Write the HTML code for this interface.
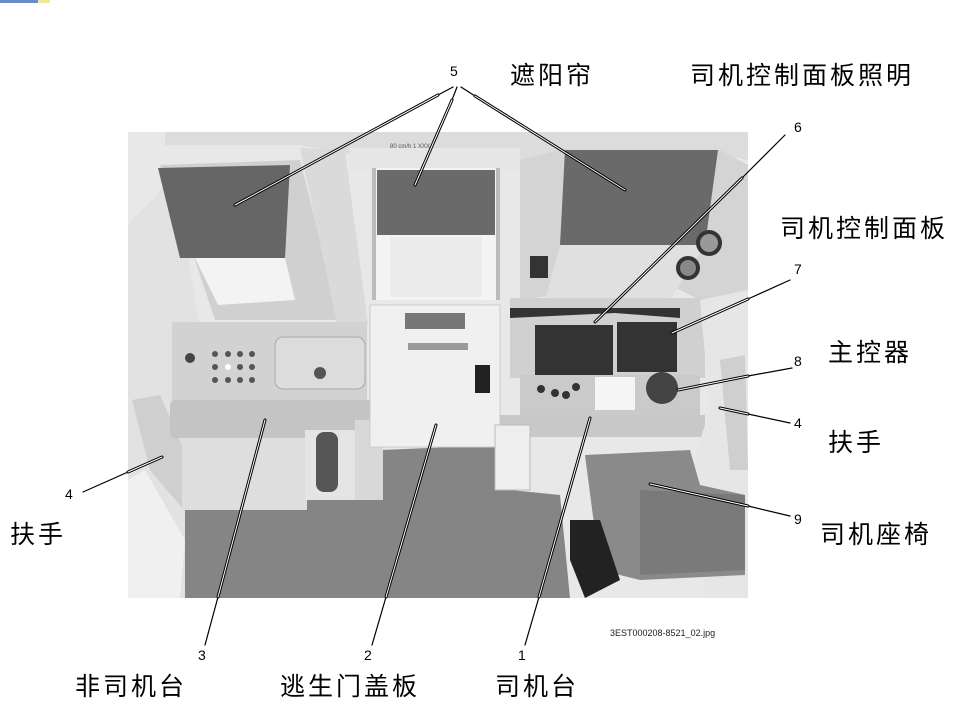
<!DOCTYPE html>
<html><head><meta charset="utf-8"><style>
body{margin:0;background:#fff;width:960px;height:720px;overflow:hidden;position:relative;font-family:"Liberation Sans","Noto Sans CJK SC",sans-serif}
.t{position:absolute;font-size:25px;letter-spacing:3px;color:#000;white-space:nowrap;line-height:1}
.n{position:absolute;font-size:14px;color:#000;line-height:1}
</style></head><body>
<svg width="960" height="720" style="position:absolute;left:0;top:0">
<rect x="0" y="0" width="38" height="3" fill="#6a8cc8"/>
<rect x="38" y="0" width="12" height="3" fill="#eee9a0"/>
<rect x="128" y="132" width="620" height="466" fill="#e8e8e8"/>
<polygon points="165,132 748,132 748,160 700,150 560,150 520,160 380,160 300,145 165,145" fill="#dcdcdc"/>
<polygon points="128,225 175,175 200,330 185,440 220,520 200,598 128,598" fill="#e2e2e2"/>
<polygon points="132,400 160,395 215,520 205,535 150,470" fill="#cfcfcf"/>
<polygon points="128,480 145,470 185,540 180,598 128,598" fill="#f0f0f0"/>
<polygon points="185,505 310,500 380,450 500,445 510,490 560,495 570,598 185,598" fill="#858585"/>
<polygon points="160,165 300,160 340,320 215,320 195,260" fill="#d0d0d0"/>
<polygon points="158,168 290,165 285,258 180,258" fill="#666"/>
<polygon points="195,258 285,258 295,300 218,305" fill="#f3f3f3"/>
<polygon points="300,148 345,150 368,325 338,328" fill="#dadada"/>
<rect x="350" y="148" width="170" height="22" fill="#e6e6e6"/>
<rect x="372" y="168" width="128" height="132" fill="#f4f4f4"/>
<rect x="377" y="170" width="118" height="65" fill="#6a6a6a"/>
<rect x="390" y="237" width="92" height="60" fill="#ececec"/>
<rect x="372" y="168" width="4" height="132" fill="#bbb"/>
<rect x="496" y="168" width="4" height="132" fill="#bbb"/>
<text x="390" y="148" font-size="6" fill="#555" font-family="Liberation Sans">80 cm/h  1 XXX</text>
<polygon points="520,160 560,150 720,150 748,165 748,300 700,300 660,280 520,300" fill="#d4d4d4"/>
<polygon points="565,150 718,150 705,245 560,245" fill="#6a6a6a"/>
<polygon points="560,245 705,245 670,300 545,300" fill="#e0e0e0"/>
<circle cx="709" cy="243" r="13" fill="#333"/><circle cx="709" cy="243" r="9" fill="#999"/>
<circle cx="688" cy="268" r="12" fill="#333"/><circle cx="688" cy="268" r="8" fill="#888"/>
<rect x="530" y="256" width="18" height="22" fill="#333"/>
<rect x="172" y="322" width="195" height="80" fill="#d2d2d2"/>
<rect x="275" y="337" width="90" height="52" rx="8" fill="#dcdcdc" stroke="#aaa"/>
<circle cx="320" cy="373" r="6" fill="#555"/>
<circle cx="190" cy="358" r="5" fill="#444"/>
<g fill="#555"><circle cx="215" cy="354" r="3"/><circle cx="228" cy="354" r="3"/><circle cx="240" cy="354" r="3"/><circle cx="252" cy="354" r="3"/><circle cx="215" cy="367" r="3"/><circle cx="240" cy="367" r="3"/><circle cx="252" cy="367" r="3"/><circle cx="215" cy="380" r="3"/><circle cx="228" cy="380" r="3"/><circle cx="240" cy="380" r="3"/><circle cx="252" cy="380" r="3"/></g>
<circle cx="228" cy="367" r="3" fill="#fff"/>
<rect x="170" y="400" width="205" height="38" rx="5" fill="#c4c4c4"/>
<rect x="182" y="438" width="125" height="72" fill="#dedede"/>
<rect x="305" y="430" width="50" height="70" fill="#e4e4e4"/>
<rect x="316" y="432" width="22" height="60" rx="8" fill="#555"/>
<rect x="355" y="420" width="28" height="80" fill="#d8d8d8"/>
<rect x="370" y="305" width="130" height="142" fill="#f0f0f0" stroke="#ccc"/>
<rect x="405" y="313" width="60" height="16" fill="#777"/>
<rect x="408" y="343" width="60" height="7" fill="#999"/>
<rect x="475" y="365" width="15" height="28" fill="#222"/>
<rect x="510" y="298" width="195" height="80" fill="#d0d0d0"/>
<polygon points="510,318 615,313 680,318 680,308 510,308" fill="#333"/>
<rect x="535" y="325" width="78" height="50" fill="#333"/>
<rect x="617" y="322" width="60" height="50" fill="#333"/>
<rect x="520" y="375" width="180" height="40" fill="#cacaca"/>
<rect x="595" y="377" width="40" height="33" fill="#f5f5f5"/>
<circle cx="662" cy="388" r="16" fill="#444"/>
<g fill="#333"><circle cx="541" cy="389" r="4"/><circle cx="555" cy="393" r="4"/><circle cx="566" cy="395" r="4"/><circle cx="576" cy="387" r="4"/></g>
<rect x="500" y="415" width="205" height="22" fill="#c8c8c8"/>
<rect x="495" y="425" width="35" height="65" fill="#eee" stroke="#bbb"/>
<polygon points="700,300 748,290 748,598 705,598 690,470 710,410" fill="#e6e6e6"/>
<polygon points="720,360 745,355 748,470 730,470" fill="#cfcfcf"/>
<polygon points="585,455 690,450 700,485 745,495 745,575 640,580 600,570" fill="#8a8a8a"/>
<polygon points="640,490 745,495 745,570 640,575" fill="#7a7a7a"/>
<polygon points="570,520 600,520 620,580 585,598 570,560" fill="#222"/>
<g stroke-linecap="round" fill="none">
<g stroke="#000" stroke-width="1.2">
<line x1="453" y1="87" x2="438" y2="95"/><line x1="457" y1="87" x2="452" y2="100"/><line x1="461" y1="87" x2="475" y2="96"/>
<line x1="785" y1="135" x2="742" y2="178"/><line x1="790" y1="280" x2="748" y2="299"/>
<line x1="792" y1="368" x2="748" y2="376"/><line x1="790" y1="423" x2="748" y2="414"/>
<line x1="790" y1="516" x2="748" y2="506"/><line x1="83" y1="492" x2="128" y2="472"/>
<line x1="205" y1="645" x2="218" y2="597"/><line x1="372" y1="645" x2="386" y2="597"/><line x1="525" y1="645" x2="539" y2="597"/>
</g>
<g stroke="#000" stroke-width="3">
<line x1="438" y1="95" x2="235" y2="205"/><line x1="452" y1="100" x2="415" y2="185"/><line x1="475" y1="96" x2="625" y2="190"/>
<line x1="742" y1="178" x2="595" y2="322"/><line x1="748" y1="299" x2="672" y2="333"/>
<line x1="748" y1="376" x2="678" y2="390"/><line x1="748" y1="414" x2="720" y2="408"/>
<line x1="748" y1="506" x2="650" y2="484"/><line x1="128" y1="472" x2="162" y2="457"/>
<line x1="218" y1="597" x2="265" y2="420"/><line x1="386" y1="597" x2="436" y2="425"/><line x1="539" y1="597" x2="590" y2="418"/>
</g>
<g stroke="#fff" stroke-width="1">
<line x1="438" y1="95" x2="235" y2="205"/><line x1="452" y1="100" x2="415" y2="185"/><line x1="475" y1="96" x2="625" y2="190"/>
<line x1="742" y1="178" x2="595" y2="322"/><line x1="748" y1="299" x2="672" y2="333"/>
<line x1="748" y1="376" x2="678" y2="390"/><line x1="748" y1="414" x2="720" y2="408"/>
<line x1="748" y1="506" x2="650" y2="484"/><line x1="128" y1="472" x2="162" y2="457"/>
<line x1="218" y1="597" x2="265" y2="420"/><line x1="386" y1="597" x2="436" y2="425"/><line x1="539" y1="597" x2="590" y2="418"/>
</g>
</g>
</svg>
<div class="n" style="left:450px;top:64px">5</div>
<div class="t" style="left:510px;top:64px">遮阳帘</div>
<div class="t" style="left:690px;top:64px">司机控制面板照明</div>
<div class="n" style="left:794px;top:120px">6</div>
<div class="t" style="left:780px;top:217px">司机控制面板</div>
<div class="n" style="left:794px;top:262px">7</div>
<div class="t" style="left:828px;top:341px">主控器</div>
<div class="n" style="left:794px;top:354px">8</div>
<div class="n" style="left:794px;top:416px">4</div>
<div class="t" style="left:828px;top:431px">扶手</div>
<div class="n" style="left:794px;top:512px">9</div>
<div class="t" style="left:820px;top:523px">司机座椅</div>
<div class="n" style="left:65px;top:487px">4</div>
<div class="t" style="left:10px;top:523px">扶手</div>
<div class="n" style="left:198px;top:648px">3</div>
<div class="t" style="left:75px;top:675px">非司机台</div>
<div class="n" style="left:364px;top:648px">2</div>
<div class="t" style="left:280px;top:675px">逃生门盖板</div>
<div class="n" style="left:518px;top:648px">1</div>
<div class="t" style="left:495px;top:675px">司机台</div>
<div style="position:absolute;left:610px;top:628px;font-size:9px;color:#222">3EST000208-8521_02.jpg</div>
</body></html>
